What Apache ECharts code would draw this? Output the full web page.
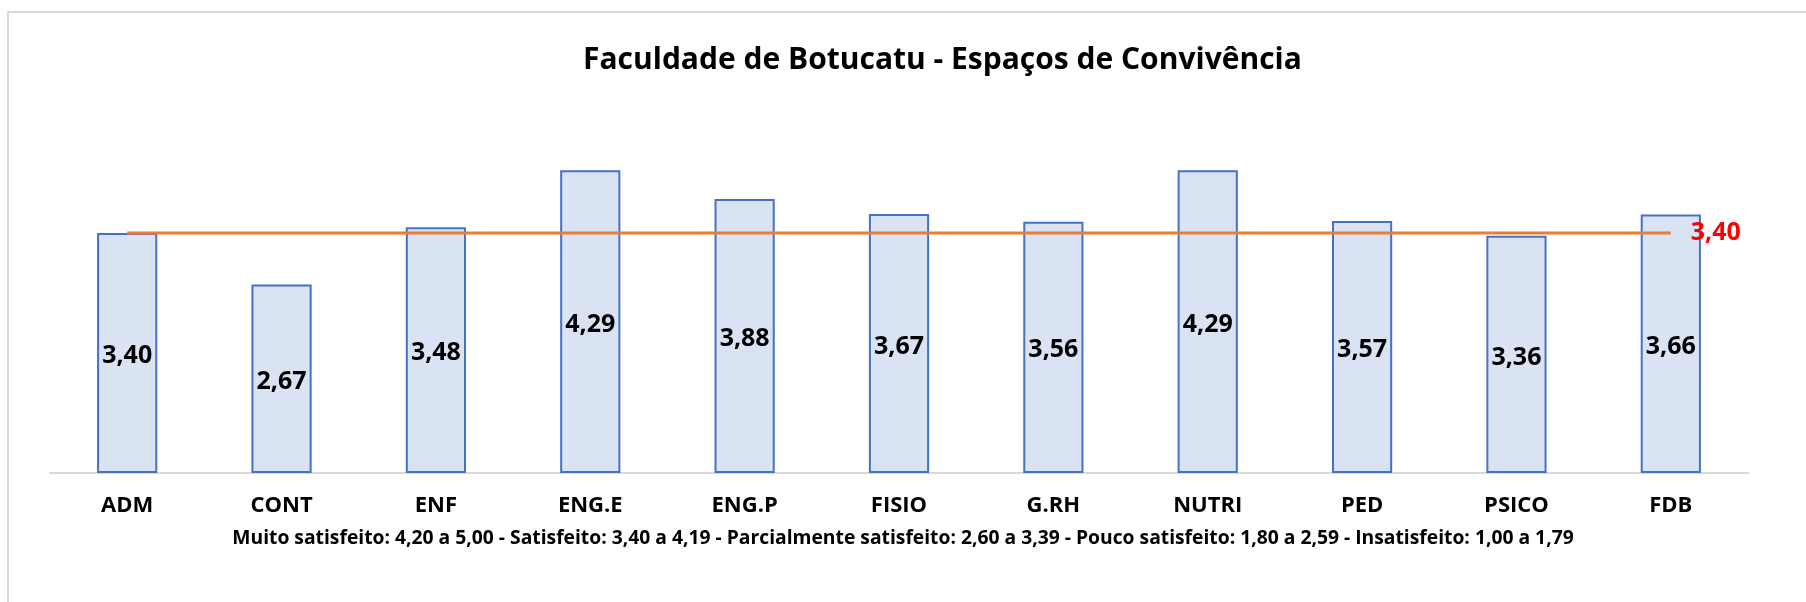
<!DOCTYPE html>
<html>
<head>
    <meta http-equiv="Content-Type" content="text/html; charset=UTF-8">
    <title>Espaços de Convivência</title>
    <script src="https://cdn.jsdelivr.net/npm/echarts@6/dist/echarts.min.js"></script>
    <style>
        html, body { margin: 0; padding: 0; background: #fff; }
    </style>
</head>
<body>
<div id="grafico" style="width: 1806px; height: 602px;"></div>

<script type="text/javascript">
    // dados do gráfico
    var cursos = ['ADM', 'CONT', 'ENF', 'ENG.E', 'ENG.P', 'FISIO', 'G.RH', 'NUTRI', 'PED', 'PSICO', 'FDB'];
    var medias = [3.40, 2.67, 3.48, 4.29, 3.88, 3.67, 3.56, 4.29, 3.57, 3.36, 3.66];
    var referencia = [3.40, 3.40, 3.40, 3.40, 3.40, 3.40, 3.40, 3.40, 3.40, 3.40, 3.40];
    var legendaEscala = 'Muito satisfeito: 4,20 a 5,00 - Satisfeito: 3,40 a 4,19 - Parcialmente satisfeito: 2,60 a 3,39 - Pouco satisfeito: 1,80 a 2,59 - Insatisfeito: 1,00 a 1,79';

    function virgula(v) {
        return Number(v).toFixed(2).replace('.', ',');
    }

    var grafico = echarts.init(document.getElementById('grafico'));

    grafico.setOption({
        backgroundColor: '#fff',
        textStyle: { fontFamily: '"Open Sans", "Noto Sans", sans-serif' },
        title: [
            {
                text: 'Faculdade de Botucatu - Espaços de Convivência',
                left: 578,
                top: 40,
                textStyle: { fontSize: 30, fontWeight: 'bold', color: '#000' }
            },
            {
                text: legendaEscala,
                left: 'center',
                top: 524,
                textStyle: { fontSize: 19.3, fontWeight: 'bold', color: '#000' }
            }
        ],
        // moldura cinza (só topo e esquerda aparecem)
        graphic: [{
            type: 'rect',
            shape: { x: 8, y: 12, width: 1900, height: 700 },
            style: { fill: 'none', stroke: '#d9d9d9', lineWidth: 2 },
            silent: true
        }],
        grid: { left: 50, right: 58, top: 120, bottom: 129 },
        xAxis: {
            type: 'category',
            data: cursos,
            axisLine: { lineStyle: { color: '#d9d9d9', width: 2 } },
            axisTick: { show: false },
            axisLabel: { margin: 22, fontSize: 22, fontWeight: 'bold', color: '#000' }
        },
        yAxis: {
            type: 'value',
            min: 0,
            max: 5,
            show: false,
            splitLine: { show: false }
        },
        series: [
            {
                name: 'Média',
                type: 'bar',
                data: medias,
                barWidth: '39%',
                itemStyle: { color: '#dae3f3', borderColor: '#4472c4', borderWidth: 2 },
                label: {
                    show: true,
                    position: 'inside',
                    offset: [0, 3],
                    fontSize: 25,
                    fontWeight: 'bold',
                    color: '#000',
                    formatter: function (p) { return virgula(p.value); }
                }
            },
            {
                name: 'Referência',
                type: 'line',
                data: referencia,
                symbol: 'none',
                lineStyle: { color: '#ed7d31', width: 3 },
                z: 5,
                endLabel: {
                    show: true,
                    distance: 20,
                    fontSize: 25,
                    fontWeight: 'bold',
                    color: '#ff0000',
                    formatter: function (p) { return virgula(p.value); }
                }
            }
        ]
    });
</script>

</body>
</html>
